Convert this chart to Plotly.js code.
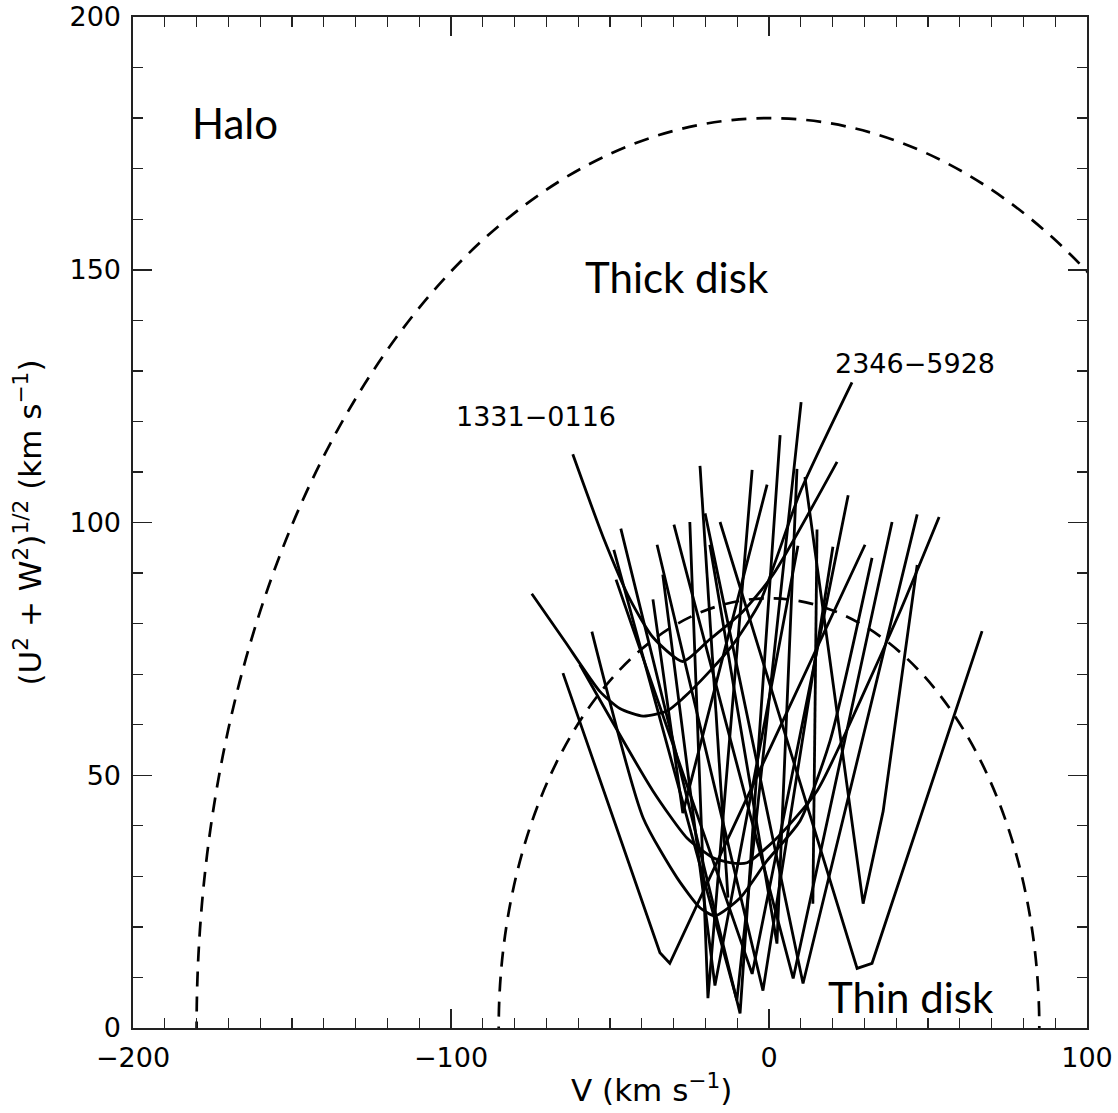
<!DOCTYPE html>
<html>
<head>
<meta charset="utf-8">
<script src="https://cdn.plot.ly/plotly-3.0.1.min.js"></script>
<style>
  html, body { margin: 0; padding: 0; background: #fff; }
  #chart { width: 1118px; height: 1113px; }
</style>
</head>
<body>
<div id="chart"></div>
<script>
// ---- Data: V (km/s) and sqrt(U^2+W^2) (km/s) along each star's track ----
const t1331_v = [-61.7, -52.2, -43.7, -36.5, -27.1, -18.6, -8.2, 1.3, 21.4];
const t1331_s = [113.5, 97.2, 84.8, 77.3, 72.5, 76.9, 82.4, 89.7, 112.0];

const t2346_v = [-74.6, -64.2, -53.2, -46.9, -39.6, -32.1, -27.1, -18.6, -11.3, -2.8, 9.8, 26.1];
const t2346_s = [85.9, 76.5, 66.6, 63.2, 61.7, 62.7, 65.2, 70.6, 75.9, 84.3, 106.0, 127.7];

const tC_v = [-59.5, -36.5, -25.8, -17.6, -12.3, -6.9, 2.5, 15.1, 28.6, 41.2, 53.5];
const tC_s = [71.9, 46.9, 37.6, 33.7, 32.7, 32.7, 37.6, 46.9, 64.6, 82.4, 101.1];

const tD_v = [-55.7, -39.6, -28.9, -21.7, -17.0, -9.1, -0.6, 9.8, 19.2, 32.4];
const tD_s = [78.4, 41.6, 29.7, 23.8, 22.2, 25.7, 33.1, 41.0, 56.8, 93.0];

const t04_v = [11.3, 29.6, 35.9, 46.6];
const t04_s = [109.0, 24.6, 42.9, 91.6];

const t05_v = [-15.4, 27.7, 32.4, 67.0];
const t05_s = [100.1, 11.8, 12.8, 78.5];

const t06_v = [15.1, 13.8];
const t06_s = [98.6, 24.6];

const t07_v = [-64.8, -34.3, -31.2, 30.2];
const t07_s = [70.2, 14.9, 12.8, 95.6];

const t08_v = [-24.9, -19.2, -5.3];
const t08_s = [100.1, 5.9, 110.4];

const t09_v = [-48.8, -10.1, 10.1];
const t09_s = [94.6, 5.5, 123.8];

const t10_v = [-46.6, -9.1, 3.5];
const t10_s = [98.8, 2.9, 117.3];

const t11_v = [-35.2, -1.9, 20.1];
const t11_s = [95.6, 7.4, 95.2];

const t12_v = [-20.1, 10.7, 46.6];
const t12_s = [101.8, 8.8, 101.6];

const t13_v = [-29.9, 7.6, 38.7];
const t13_s = [99.6, 9.8, 100.1];

const t14_v = [-48.1, -5.3, 24.9];
const t14_s = [88.7, 10.7, 105.4];

const t15_v = [-36.5, -27.1, -0.6];
const t15_s = [84.8, 42.5, 107.5];

const t16_v = [-18.6, 2.5, 8.8];
const t16_s = [95.6, 16.7, 110.6];

const t17_v = [-21.7, -12.9];
const t17_s = [111.2, 25.8];

const t18_v = [-33.4, -17.0, 9.1];
const t18_s = [89.7, 8.4, 95.4];

// Boundaries of total space velocity (km/s)
const haloRadius = 180;
const thinRadius = 85;

// Axis ticks
const xTicks = [-200, -100, 0, 100];
const yTicks = [0, 50, 100, 150, 200];

// Text labels
const regionLabels = ['Halo', 'Thick disk', 'Thin disk'];
const starLabels = ['1331−0116', '2346−5928'];
const xTitle = 'V (km s<sup>−1</sup>)';
const yTitle = '(U<sup>2</sup> + W<sup>2</sup>)<sup>1/2</sup> (km s<sup>−1</sup>)';

// ---- Build traces ----
const tracks = [
  [t1331_v, t1331_s], [t2346_v, t2346_s], [tC_v, tC_s], [tD_v, tD_s],
  [t04_v, t04_s], [t05_v, t05_s], [t06_v, t06_s], [t07_v, t07_s],
  [t08_v, t08_s], [t09_v, t09_s], [t10_v, t10_s], [t11_v, t11_s],
  [t12_v, t12_s], [t13_v, t13_s], [t14_v, t14_s], [t15_v, t15_s],
  [t16_v, t16_s], [t17_v, t17_s], [t18_v, t18_s]
];

const traces = tracks.map(function (t, i) {
  return {
    x: t[0], y: t[1], type: 'scatter', mode: 'lines',
    line: { color: '#000', width: 2.8, shape: i < 4 ? 'spline' : 'linear', smoothing: 0.6 },
    hoverinfo: 'skip', showlegend: false
  };
});

const dashLine = { color: '#000', width: 2.7, dash: '15px,10px' };
const shapes = [
  { type: 'circle', xref: 'x', yref: 'y', x0: -haloRadius, x1: haloRadius, y0: -haloRadius, y1: haloRadius, line: dashLine, layer: 'below' },
  { type: 'circle', xref: 'x', yref: 'y', x0: -thinRadius, x1: thinRadius, y0: -thinRadius, y1: thinRadius, line: dashLine, layer: 'below' }
];

const regionFont = { family: 'Lato, "Open Sans", sans-serif', size: 42, color: '#000' };
const starFont = { family: '"DejaVu Sans", sans-serif', size: 27, color: '#000' };
const titleFont = { family: '"DejaVu Sans", sans-serif', size: 31, color: '#000' };
const annotations = [
  { x: -168, y: 179, text: regionLabels[0], font: regionFont },
  { x: -29, y: 148.5, text: regionLabels[1], font: regionFont },
  { x: 44.7, y: 6.2, text: regionLabels[2], font: regionFont },
  { x: -73.3, y: 121, text: starLabels[0], font: starFont },
  { x: 46, y: 131.5, text: starLabels[1], font: starFont }
].map(function (a) {
  return Object.assign({ xref: 'x', yref: 'y', showarrow: false, xanchor: 'center', yanchor: 'middle' }, a);
});
// x-axis title, placed where the reference draws it
annotations.push({
  xref: 'paper', yref: 'paper', x: 0.543, y: 0, yshift: -60,
  xanchor: 'center', yanchor: 'middle', showarrow: false,
  text: xTitle, font: titleFont
});

const tickFont = { family: '"DejaVu Sans", sans-serif', size: 27, color: '#000' };
const axisCommon = {
  showline: true, linecolor: '#222', linewidth: 1.6, mirror: 'allticks',
  ticks: 'inside', ticklen: 19, tickwidth: 1.5, tickcolor: '#222',
  showgrid: false, zeroline: false, tickfont: tickFont,
  ticklabeloverflow: 'allow',
  minor: { ticks: 'inside', ticklen: 10, tickwidth: 1.3, tickcolor: '#222', dtick: 10, showgrid: false }
};

const layout = {
  width: 1118, height: 1113,
  margin: { l: 133, r: 31, t: 17, b: 85 },
  paper_bgcolor: '#fff', plot_bgcolor: '#fff',
  showlegend: false,
  xaxis: Object.assign({}, axisCommon, {
    range: [-200, 100], tickmode: 'array', tickvals: xTicks,
    ticklabelstandoff: 5
  }),
  yaxis: Object.assign({}, axisCommon, {
    range: [0, 200], tickmode: 'array', tickvals: yTicks,
    ticklabelstandoff: 5,
    title: { text: yTitle, font: titleFont, standoff: 18 }
  }),
  shapes: shapes,
  annotations: annotations
};

Plotly.newPlot('chart', traces, layout, { displayModeBar: false, staticPlot: true });
</script>
</body>
</html>
